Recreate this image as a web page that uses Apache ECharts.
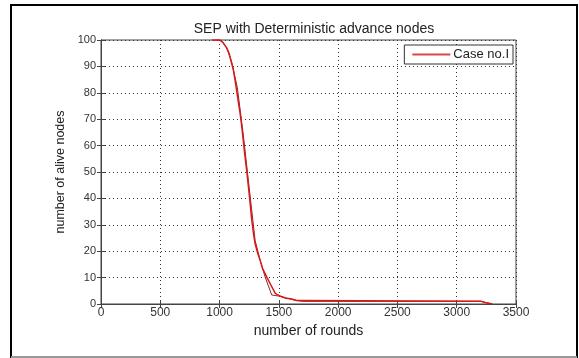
<!DOCTYPE html>
<html>
<head>
<meta charset="utf-8">
<script src="https://cdn.jsdelivr.net/npm/echarts@6/dist/echarts.min.js"></script>
<style>
  html, body { margin: 0; padding: 0; background: #fff; }
  #chart { width: 579px; height: 358px; }
</style>
</head>
<body>
<div id="chart"></div>
<script>
// Alive nodes per round for Case no.I (rounds, nodes)
const roundsMain = [935, 1000, 1030, 1060, 1080, 1100, 1115, 1130, 1150, 1172, 1187, 1200, 1214, 1230, 1243, 1258, 1271, 1285, 1299, 1320, 1341, 1362, 1400, 1435, 1470, 1510, 1560, 1600, 1650, 1690, 1700, 3210, 3240, 3300];
const nodesMain  = [100, 100, 99, 97, 95, 91.5, 89, 85, 79, 72.6, 67.4, 62, 56, 50, 44.6, 38, 32, 27, 23, 19.5, 16.7, 13.5, 10, 7, 4, 3, 2.2, 2, 1.3, 1.3, 1, 1, 0.6, 0];

// Coarser trace of the same run
const roundsTrace = [960, 1010, 1060, 1100, 1150, 1200, 1250, 1300, 1340, 1383, 1440, 1500, 1560, 1650, 1700, 3200, 3300];
const nodesTrace  = [100, 100, 97, 92, 82, 64, 44, 24, 17, 10.4, 3.4, 3, 2.3, 1.3, 1, 1, 0];

const xTicks = [0, 500, 1000, 1500, 2000, 2500, 3000, 3500];
const yTicks = [0, 10, 20, 30, 40, 50, 60, 70, 80, 90, 100];

const pairs = (xs, ys) => xs.map((x, i) => [x, ys[i]]);

const font = 'Liberation Sans, Arial, sans-serif';
const chart = echarts.init(document.getElementById('chart'), null, { renderer: 'canvas' });

const gridCfg = { left: 101, top: 40, width: 415, height: 264 };

chart.setOption({
  animation: false,
  backgroundColor: '#fff',
  title: {
    text: 'SEP with Deterministic advance nodes',
    left: 309, top: 17, textAlign: 'center',
    textStyle: { fontFamily: font, fontSize: 14, fontWeight: 'normal', color: '#222' }
  },
  legend: {
    data: ['Case no.I'],
    right: 66, top: 45,
    padding: [3, 4, 3, 8],
    itemWidth: 38, itemHeight: 2, itemGap: 2,
    borderColor: '#333', borderWidth: 1,
    backgroundColor: '#fff',
    icon: 'rect',
    textStyle: { fontFamily: font, fontSize: 13, color: '#222', padding: [0, 0, 0, -2] }
  },
  grid: Object.assign({ show: true, borderColor: '#444', borderWidth: 1 }, gridCfg),
  xAxis: [{
    type: 'value', min: xTicks[0], max: xTicks[xTicks.length - 1], interval: 500,
    name: 'number of rounds', nameLocation: 'middle', nameGap: 16,
    nameTextStyle: { fontFamily: font, fontSize: 14, color: '#222' },
    axisLine: { show: true, lineStyle: { color: '#444' } },
    axisTick: { show: true, inside: true, length: 4, lineStyle: { color: '#444' } },
    axisLabel: { fontFamily: font, fontSize: 12, color: '#333', margin: 3, formatter: v => String(v) },
    splitLine: { show: true, lineStyle: { color: '#333', type: [1, 3], width: 1 } }
  }, {
    type: 'value', position: 'top', min: 0, max: 3500, interval: 500,
    axisLine: { show: true, lineStyle: { color: '#444' } },
    axisTick: { show: true, inside: true, length: 4, lineStyle: { color: '#444' } },
    axisLabel: { show: false }, splitLine: { show: false }
  }],
  yAxis: [{
    type: 'value', min: yTicks[0], max: yTicks[yTicks.length - 1], interval: 10,
    name: 'number of alive nodes', nameLocation: 'middle', nameGap: 21,
    nameTextStyle: { fontFamily: font, fontSize: 12.5, color: '#222' },
    axisLine: { show: true, lineStyle: { color: '#444' } },
    axisTick: { show: true, inside: true, length: 4, lineStyle: { color: '#444' } },
    axisLabel: { fontFamily: font, fontSize: 11, color: '#333', margin: 5, formatter: v => String(v) },
    splitLine: { show: true, lineStyle: { color: '#333', type: [1, 3], width: 1 } }
  }, {
    type: 'value', position: 'right', min: 0, max: 100, interval: 10,
    axisLine: { show: true, lineStyle: { color: '#444' } },
    axisTick: { show: true, inside: true, length: 4, lineStyle: { color: '#444' } },
    axisLabel: { show: false }, splitLine: { show: false }
  }],
  series: [{
    name: 'Case no.I trace',
    type: 'line', showSymbol: false, silent: true,
    data: pairs(roundsTrace, nodesTrace),
    lineStyle: { color: '#8c2a2a', width: 1 },
    itemStyle: { color: '#8c2a2a' }
  }, {
    name: 'Case no.I',
    type: 'line', showSymbol: false,
    data: pairs(roundsMain, nodesMain),
    lineStyle: { color: '#d81818', width: 1.5 },
    itemStyle: { color: '#d84848' }
  }],
  graphic: [
    { type: 'rect', shape: { x: 11, y: 5, width: 566, height: 352 }, style: { fill: 'none', stroke: '#000', lineWidth: 2 }, z: 100 },
    { type: 'line', shape: { x1: 11, y1: 357, x2: 577, y2: 357 }, style: { stroke: '#999', lineWidth: 2 }, z: 101 }
  ]
});
</script>
</body>
</html>
